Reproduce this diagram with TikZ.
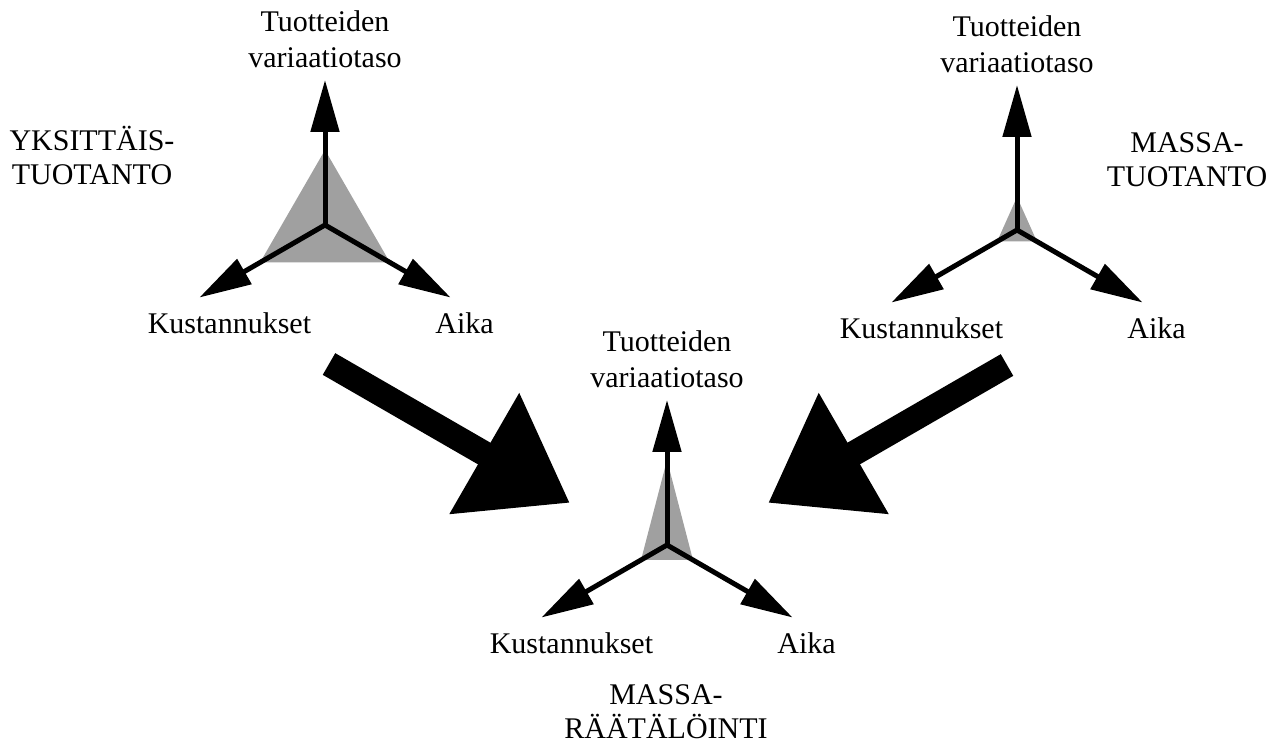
\documentclass[tikz,border=0pt]{standalone}
\usepackage{fontspec}
\setmainfont{Liberation Serif}
\usetikzlibrary{arrows.meta}
\definecolor{areagray}{RGB}{160,160,160}
\tikzset{
  axisarrow/.style={line width=2.5pt,-{Triangle[length=26pt,width=14pt]}},
  bigarrow/.style={line width=12.5pt,-{Triangle[length=49.5pt,width=66.5pt]}},
  lbl/.style={font=\fontsize{15}{18}\selectfont,inner sep=0pt,align=center},
  ttl/.style={font=\fontsize{15}{17}\selectfont,inner sep=0pt,align=center},
}
\begin{document}
\begin{tikzpicture}[x=0.5pt,y=0.5pt]
        \useasboundingbox (0,0) rectangle (1285,750);

        % yksittaistuotanto
        \coordinate (yC) at (325,525);
        \fill[areagray] ([shift={(90:75)}]yC)--([shift={(210:75)}]yC)--([shift={(330:75)}]yC)--cycle;
        \coordinate (yTop) at ([shift={(90:145)}]yC);
        \coordinate (yLeft) at ([shift={(210:145)}]yC);
        \coordinate (yRight) at ([shift={(330:145)}]yC);
        \draw[axisarrow] (yC)--(yTop);
        \draw[axisarrow] (yC)--(yLeft);
        \draw[axisarrow] (yC)--(yRight);
        \node[lbl,anchor=south] (yVar) at ([yshift=6pt]yTop) {Tuotteiden\\variaatiotaso};
        \node[lbl,anchor=base] (yCost) at ([xshift=15pt,yshift=-18pt]yLeft) {Kustannukset};
        \node[lbl,anchor=base] (yTime) at ([xshift=7pt,yshift=-18pt]yRight) {Aika};
        \node[ttl,anchor=base] (yTitle) at (92,565) {YKSITTÄIS-\\TUOTANTO};

        % massatuotanto
        \coordinate (mC) at (1017,520);
        \fill[areagray] ([shift={(90:33)}]mC)--([shift={(210:23)}]mC)--([shift={(330:23)}]mC)--cycle;
        \coordinate (mTop) at ([shift={(90:145)}]mC);
        \coordinate (mLeft) at ([shift={(210:145)}]mC);
        \coordinate (mRight) at ([shift={(330:145)}]mC);
        \draw[axisarrow] (mC)--(mTop);
        \draw[axisarrow] (mC)--(mLeft);
        \draw[axisarrow] (mC)--(mRight);
        \node[lbl,anchor=south] (mVar) at ([yshift=6pt]mTop) {Tuotteiden\\variaatiotaso};
        \node[lbl,anchor=base] (mCost) at ([xshift=15pt,yshift=-18pt]mLeft) {Kustannukset};
        \node[lbl,anchor=base] (mTime) at ([xshift=7pt,yshift=-18pt]mRight) {Aika};
        \node[ttl,anchor=base] (mTitle) at (1187,563) {MASSA-\\TUOTANTO};

        % massaraatalointi
        \coordinate (rC) at (667,205);
        \fill[areagray] ([shift={(90:85)}]rC)--([shift={(210:30)}]rC)--([shift={(330:30)}]rC)--cycle;
        \coordinate (rTop) at ([shift={(90:145)}]rC);
        \coordinate (rLeft) at ([shift={(210:145)}]rC);
        \coordinate (rRight) at ([shift={(330:145)}]rC);
        \draw[axisarrow] (rC)--(rTop);
        \draw[axisarrow] (rC)--(rLeft);
        \draw[axisarrow] (rC)--(rRight);
        \node[lbl,anchor=south] (rVar) at ([yshift=6pt]rTop) {Tuotteiden\\variaatiotaso};
        \node[lbl,anchor=base] (rCost) at ([xshift=15pt,yshift=-18pt]rLeft) {Kustannukset};
        \node[lbl,anchor=base] (rTime) at ([xshift=7pt,yshift=-18pt]rRight) {Aika};
        \node[ttl,anchor=base] (rTitle) at (666,12) {MASSA-\\RÄÄTÄLÖINTI};

        % big arrows
        \coordinate (yTail) at (329,386);
        \coordinate (yHead) at (570,247);
        \coordinate (mTail) at (1007,385);
        \coordinate (mHead) at (768,247);
        \draw[bigarrow] (yTail)--(yHead);
        \draw[bigarrow] (mTail)--(mHead);
    \end{tikzpicture}
\end{document}
